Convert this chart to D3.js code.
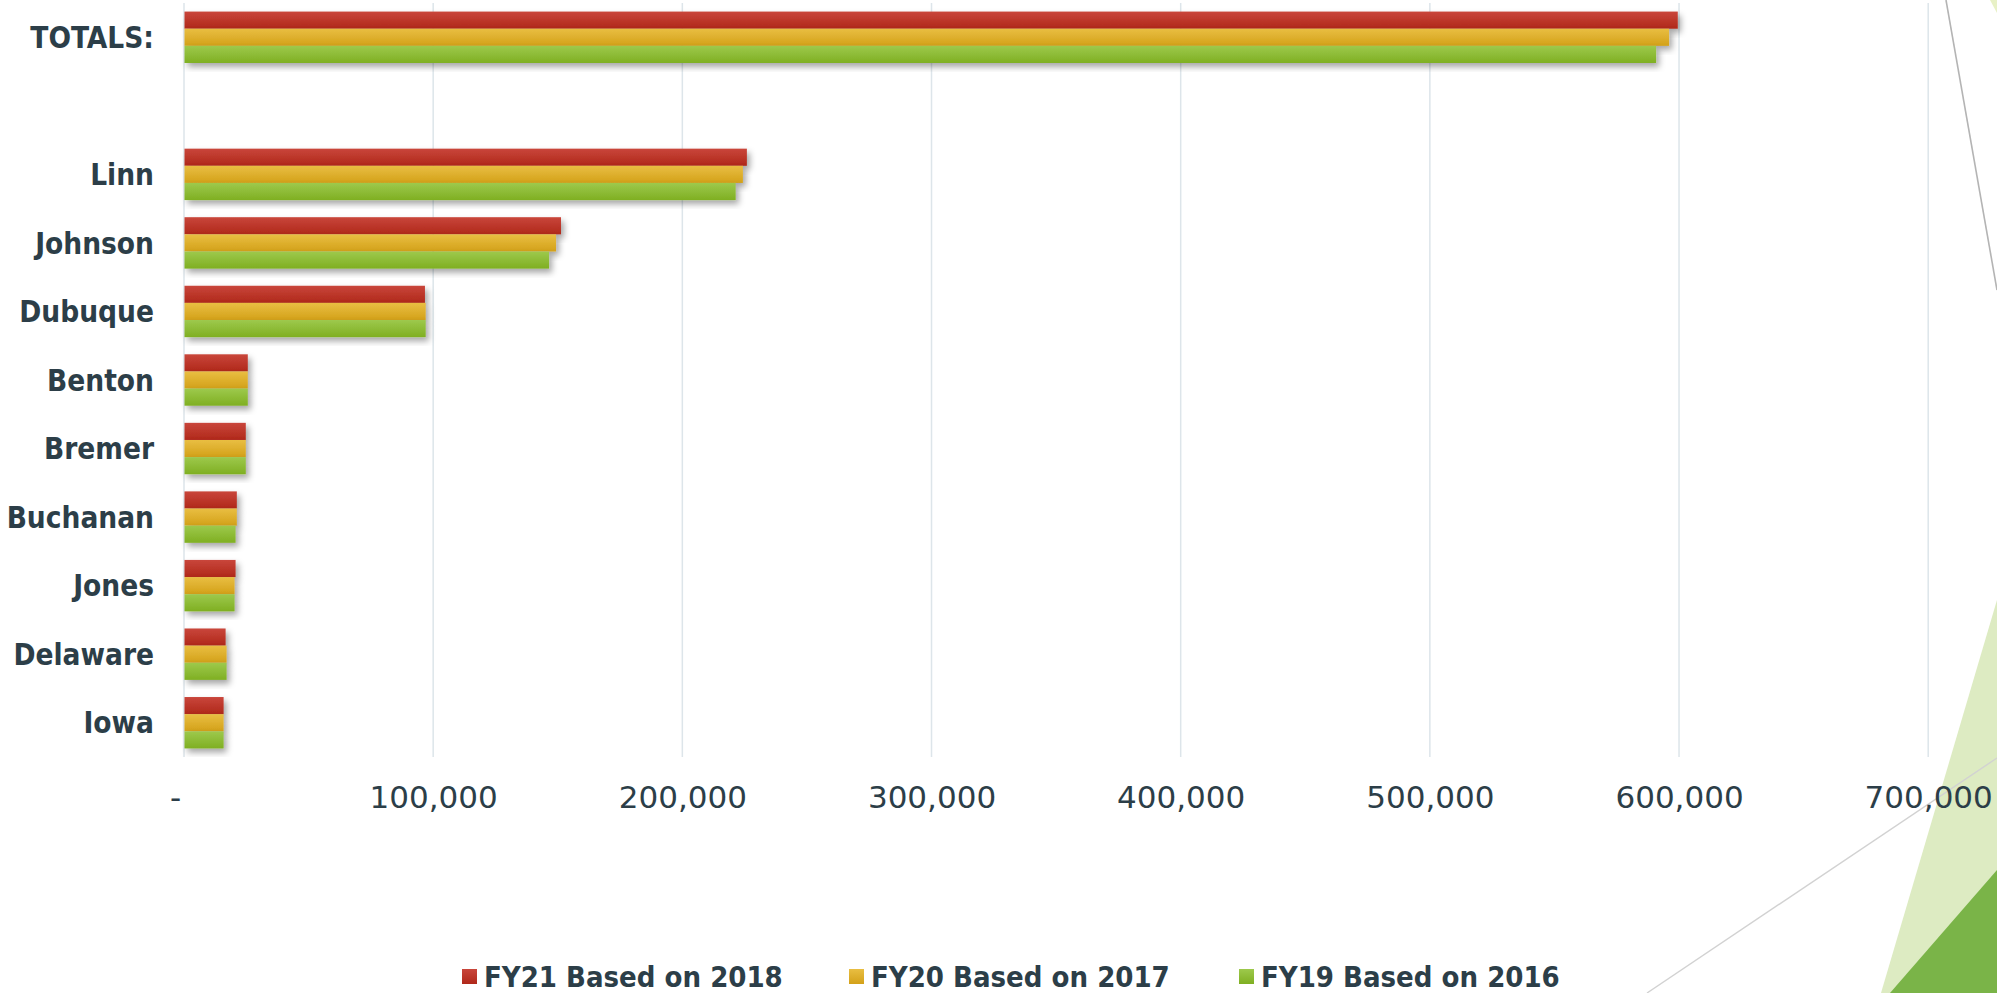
<!DOCTYPE html>
<html>
<head>
<meta charset="utf-8">
<script src="https://cdn.jsdelivr.net/npm/d3@7/dist/d3.min.js"></script>
<style>
  html, body { margin: 0; padding: 0; background: #ffffff; }
  svg { display: block; }
</style>
</head>
<body>
<script>
// ---- Data ----
const categories = ["TOTALS:", "", "Linn", "Johnson", "Dubuque", "Benton", "Bremer", "Buchanan", "Jones", "Delaware", "Iowa"];
const seriesNames = ["FY21 Based on 2018", "FY20 Based on 2017", "FY19 Based on 2016"];
const fy21 = [599500, null, 225900, 151300, 96700, 25600, 24800, 21200, 20700, 16700, 15900];
const fy20 = [596000, null, 224300, 149300, 97000, 25600, 24800, 21200, 20300, 17100, 15900];
const fy19 = [590800, null, 221400, 146500, 97000, 25600, 24800, 20700, 20300, 17100, 15900];
const xTicks = [0, 100000, 200000, 300000, 400000, 500000, 600000, 700000];

const W = 1997, H = 993;
const svg = d3.select("body").append("svg").attr("width", W).attr("height", H);
const defs = svg.append("defs");

const colorStops = [
  ["#c9463b", "#b0281a"],
  ["#e9be42", "#d3a119"],
  ["#9dc94c", "#7faf22"]
];
colorStops.forEach((c, i) => {
  const g = defs.append("linearGradient").attr("id", "grad" + i)
    .attr("x1", 0).attr("y1", 0).attr("x2", 0).attr("y2", 1);
  g.append("stop").attr("offset", "0%").attr("stop-color", c[0]);
  g.append("stop").attr("offset", "100%").attr("stop-color", c[1]);
});
const f = defs.append("filter").attr("id", "shadow")
  .attr("x", "-5%").attr("y", "-30%").attr("width", "130%").attr("height", "180%");
f.append("feDropShadow").attr("dx", 3).attr("dy", 4).attr("stdDeviation", 3)
  .attr("flood-color", "#000").attr("flood-opacity", 0.35);

// ---- Decorative background shapes ----
const deco = svg.append("g");
deco.append("polygon").attr("points", "1990,0 1997,0 1997,13").attr("fill", "#e8f1c6");
deco.append("polygon").attr("points", "1997,600 1881,993 1997,993").attr("fill", "#ddebc2");
deco.append("polygon").attr("points", "1997,870 1890,993 1997,993").attr("fill", "#7ab448");
deco.append("line").attr("x1", 1946).attr("y1", 0).attr("x2", 1997).attr("y2", 290)
  .attr("stroke", "#b4b4b4").attr("stroke-width", 1.6);
deco.append("line").attr("x1", 1647).attr("y1", 993).attr("x2", 1997).attr("y2", 758)
  .attr("stroke", "#d2d2d2").attr("stroke-width", 1.4);

// ---- Scales ----
const x = d3.scaleLinear().domain([0, 700000]).range([184, 1928.2]);
const y = d3.scaleBand().domain(categories).range([3, 757]).paddingInner(0.25).paddingOuter(0.125);
const ys = d3.scaleBand().domain(d3.range(seriesNames.length)).range([0, y.bandwidth()]);
const series = [fy21, fy20, fy19];
const textColor = "#2c3e48";
const labelFont = "'DejaVu Sans Condensed', 'DejaVu Sans', sans-serif";

// ---- Gridlines ----
svg.append("g").selectAll("line").data(xTicks).join("line")
  .attr("x1", d => x(d)).attr("x2", d => x(d))
  .attr("y1", 3).attr("y2", 757)
  .attr("stroke", "#dde5ea").attr("stroke-width", 1.5);

// ---- Bars ----
const groups = svg.append("g").selectAll("g").data(categories).join("g")
  .attr("transform", c => `translate(0,${y(c)})`);
groups.each(function(c, ci) {
  const g = d3.select(this);
  series.forEach((s, si) => {
    const v = s[ci];
    if (v == null) return;
    g.append("rect")
      .attr("x", x(0) + 0.5)
      .attr("y", ys(si))
      .attr("width", x(v) - x(0) - 0.5)
      .attr("height", ys.bandwidth())
      .attr("fill", `url(#grad${si})`)
      .attr("filter", "url(#shadow)");
  });
});

// ---- Category labels ----
svg.append("g").selectAll("text").data(categories.filter(c => c !== "")).join("text")
  .attr("x", 154)
  .attr("y", c => y(c) + y.bandwidth() / 2)
  .attr("dy", "0.36em")
  .attr("text-anchor", "end")
  .attr("font-family", labelFont)
  .attr("font-stretch", "condensed")
  .attr("font-weight", 700)
  .attr("font-size", 29.5)
  .attr("fill", textColor)
  .text(c => c);

// ---- X axis labels ----
const xAxis = d3.axisBottom(x).tickValues(xTicks).tickSize(0).tickPadding(0)
  .tickFormat(d => d === 0 ? "-" : d3.format(",")(d));
const ax = svg.append("g").attr("transform", "translate(0,808)").call(xAxis);
ax.select(".domain").remove();
ax.selectAll("text")
  .attr("y", 0).attr("dy", 0)
  .attr("dx", d => d === 0 ? -9 : 0)
  .attr("font-family", "'DejaVu Sans', sans-serif")
  .attr("font-size", 31)
  .attr("fill", textColor);

// ---- Legend ----
const legendX = [462, 849, 1239];
const leg = svg.append("g").selectAll("g").data(seriesNames).join("g")
  .attr("transform", (d, i) => `translate(${legendX[i]},969)`);
leg.append("rect").attr("width", 15).attr("height", 15)
  .attr("fill", (d, i) => `url(#grad${i})`);
leg.append("text").attr("x", 22).attr("y", 7.5).attr("dy", "0.36em")
  .attr("font-family", labelFont)
  .attr("font-stretch", "condensed")
  .attr("font-weight", 700)
  .attr("font-size", 29)
  .attr("fill", textColor)
  .text(d => d);
</script>
</body>
</html>
